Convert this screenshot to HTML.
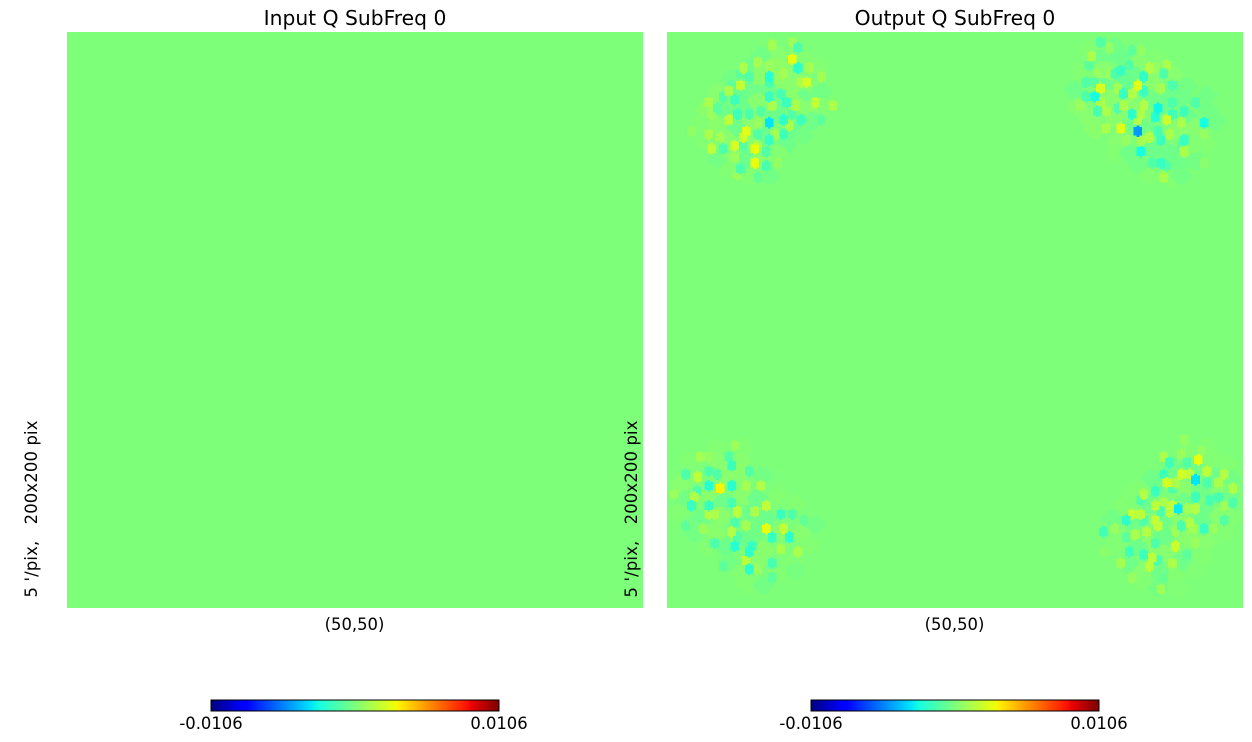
<!DOCTYPE html>
<html lang="en">
<head>
<meta charset="utf-8">
<title>Input and Output Q SubFreq 0</title>
<style>
  html, body { margin: 0; padding: 0; background: #fff; width: 1252px; height: 742px; overflow: hidden; }
  svg { display: block; font-family: "DejaVu Sans", "Liberation Sans", sans-serif; fill: #000; }
  text { white-space: pre; }
</style>
</head>
<body>
<svg id="figure" width="1252" height="742" viewBox="0 0 1252 742" xmlns="http://www.w3.org/2000/svg">
  <defs id="defs"></defs>
  <g id="panel-left"></g>
  <g id="panel-right"></g>
</svg>
<script>
// Colour scale limits and grid size
const vMin = -0.0106;
const vMax = 0.0106;
const gridSize = 200;
const tickLabels = ['-0.0106', '0.0106'];
const axisCaption = '(50,50)';
const sideCaption = "5 '/pix,   200x200 pix";
const inputTitle = 'Input Q SubFreq 0';
const outputTitle = 'Output Q SubFreq 0';
const inputLevel = 0;
const outputLevel = 0;

// Top-left lobe of the output map
const lobeACols = [43,45,45,36,43,35,35,48,53,40,26,31,35,49,25,21,23,28,25,22,19,14,15,17,35,36,39,41,44,51,57,24,28,32,21,40,42,46,43,35,37,40,27,26,31,31,14,18,15,23,26,30,19,35,34,31,30,25,34,23,24,31,38,53,8,46];
const lobeARows = [9,12,5,4,3,15,17,17,15,14,12,10,11,12,18,20,23,15,14,18,22,24,28,26,22,25,21,24,25,24,25,28,28,27,30,30,32,30,28,31,35,35,34,36,31,35,35,36,40,39,39,40,40,37,41,39,45,47,46,43,49,50,45,30,34,17];
const lobeAValues = [.0028,-.002,-.0012,.001,.0008,-.0022,-.0014,.0022,.001,.001,.0012,.001,.0008,.001,.0017,.0012,-.0016,-.001,-.0008,-.0008,-.001,.0012,.0008,-.0008,-.0018,.0012,-.0014,-.0016,.0012,.0018,.0012,-.0016,-.0012,-.001,.0017,-.002,.0012,-.0016,-.001,-.0032,.001,-.0016,.0026,.002,.0008,-.001,.0012,.001,.0017,.0022,-.001,.0028,-.0012,-.0018,-.001,.001,.0028,-.0012,-.0014,.0008,.0008,-.0006,.0006,-.0008,.0005,.0012];

// Top-right lobe of the output map
const lobeBCols = [150,153,147,161,164,146,157,155,160,167,173,169,165,172,150,148,149,153,145,145,148,163,161,165,158,156,171,175,143,150,152,149,158,156,165,170,169,161,164,175,175,179,183,173,178,163,186,157,152,163,164,167,174,170,171,179,164,179,171,168,173,172,186,178,186,159];
const lobeBRows = [3,5,8,6,6,11,13,14,11,12,11,12,15,14,19,22,14,14,17,22,17,18,21,20,21,19,19,18,25,24,27,27,25,26,25,26,29,28,28,24,28,27,24,30,31,30,31,33,33,34,37,36,35,34,37,37,41,41,45,45,46,50,35,39,45,37];
const lobeBValues = [-.001,.0006,.0012,-.0008,.0006,-.0009,-.0018,-.0012,-.001,.0014,.0012,.0007,-.002,-.0012,.0024,-.0026,.0007,.0008,-.001,-.0012,-.0009,.0026,.0014,-.0018,-.0018,.001,.001,-.0012,.0009,.0012,.0012,-.0014,.0012,-.0011,.0014,-.0028,-.0022,-.002,.0012,-.0012,-.0015,-.0016,-.0012,.002,.0012,.0014,-.0026,.0026,.0012,-.0048,.001,.0014,.0012,-.0014,-.0017,-.0018,-.0026,.0012,-.0018,-.001,-.001,.0012,.0006,-.0008,.0004,.0006];

// Bottom-left lobe of the output map
const lobeCCols = [23,21,11,14,22,28,14,17,6,10,18,14,22,10,32,27,2,9,8,14,22,34,24,14,16,30,39,43,23,27,6,34,40,22,36,42,24,23,16,29,28,27,36,39,45,28,19,31,36,12,47];
const lobeCRows = [143,147,147,147,150,152,152,153,153,154,158,157,157,159,157,157,160,161,164,164,163,164,166,167,167,166,167,167,170,171,171,172,172,173,175,175,175,178,177,178,180,183,184,179,180,186,185,186,189,172,169];
const lobeCValues = [.0008,-.001,.001,.0006,-.0016,-.001,-.0012,-.001,-.0012,.0017,.0032,-.0022,-.0022,-.0012,.0014,.001,.0008,.0014,-.0018,-.0017,-.0014,.0017,.0016,.0014,.0012,.0012,-.0017,-.0012,-.0012,.001,-.0008,.0028,.0018,.0014,-.0018,-.002,-.001,-.0022,-.0012,-.0018,-.002,.0016,-.0014,.0012,.0012,-.002,-.0008,.0008,-.0008,.0008,-.0006];

// Bottom-right lobe of the output map
const lobeDCols = [179,172,174,184,185,178,180,172,178,181,187,193,183,173,176,187,191,196,169,165,175,183,164,188,191,169,172,175,177,183,193,196,171,161,164,174,180,159,165,169,170,181,178,151,155,186,189,182,193,166,162,176,159,176,183,169,160,165,168,170,157,167,175,180,161,171,151,172];
const lobeDRows = [141,147,149,148,145,146,149,153,153,153,152,153,155,156,156,156,156,158,159,160,158,161,162,162,161,164,163,164,165,165,164,163,166,167,167,166,165,169,169,169,171,170,171,173,172,172,172,172,169,173,174,173,175,178,177,177,180,181,182,183,184,185,184,181,189,193,180,189];
const lobeDValues = [.0006,.0012,-.0015,.0028,.0006,.0008,-.001,-.0016,.0022,.0017,.0017,.0014,-.0032,.0022,.0012,-.0012,.0012,.0013,-.0018,.0014,-.001,-.0016,-.0012,-.0014,-.0013,.0016,.0012,.0018,-.003,.0014,.0009,-.0012,-.0012,.0018,.0016,.0015,.001,-.002,-.0012,.0018,.0018,.0014,-.0013,-.0015,.0007,-.0018,.0007,.001,-.001,.0014,.0012,.0009,-.0008,.002,.0008,-.0012,-.0015,-.0016,.0016,-.0012,.001,.0016,.0012,-.0008,.0007,.0009,.0004,-.0005];

// Low-amplitude broad pixels filling each lobe
const hazeACols = [38,44,32,28,33,38,43,48,52,22,27,32,38,43,50,17,24,30,35,41,47,53,13,19,26,31,38,43,48,54,11,17,24,29,37,44,50,13,20,28,34,41,47,17,22,27,32,38,21,28,35];
const hazeARows = [7,7,7,11,12,11,13,9,11,15,17,15,17,18,19,20,21,20,19,19,22,20,26,26,25,23,25,23,26,25,31,31,32,30,28,33,30,37,36,37,35,38,35,43,41,43,43,41,47,49,49];
const hazeAValues = [.0003,.0003,-.0002,-.0003,.0004,.0005,.0003,.0002,.0002,-.0002,-.0004,.0004,.0005,.0004,.0002,.0003,-.0005,-.0003,-.0004,.0004,-.0003,-.0002,.0004,-.0004,-.0004,.0003,-.0004,.0004,.0003,.0002,.0002,.0004,-.0004,.0003,-.0004,-.0005,-.0003,.0002,.0003,.0004,-.0005,-.0004,-.0002,-.0002,.0003,-.0004,.0003,.0002,.0002,.0002,-.0002];

const hazeBCols = [155,146,150,157,163,169,143,151,162,168,175,141,152,159,167,174,180,142,153,167,172,179,187,146,155,160,172,181,187,148,156,162,167,177,183,190,155,160,168,174,182,187,163,177,183,167,175,178];
const hazeBRows = [4,5,8,8,10,8,13,12,14,15,14,19,18,16,19,19,18,25,22,22,24,22,21,29,29,25,28,29,26,33,37,31,33,33,32,30,41,41,40,41,39,38,45,45,44,49,50,49];
const hazeBValues = [-.0002,.0002,-.0003,-.0004,.0003,.0002,.0002,.0003,-.0004,.0003,.0003,-.0003,-.0004,-.0005,.0004,-.0004,-.0002,.0003,.0004,-.0003,-.0004,-.0003,-.0002,.0003,.0004,.0004,-.0004,-.0003,-.0002,.0004,.0003,-.0004,-.0003,.0004,.0003,-.0002,.0002,-.0003,-.0004,-.0004,.0002,.0002,-.0002,-.0003,-.0002,.0002,.0002,-.0002];

const hazeCCols = [17,26,7,17,25,4,19,25,33,6,14,19,26,31,38,3,11,18,28,34,44,9,16,27,31,38,46,51,14,20,33,43,49,21,25,31,38,44,27,33];
const hazeCRows = [143,143,148,148,148,156,153,152,153,161,160,162,160,161,160,166,168,167,166,168,163,173,173,175,172,173,173,170,178,178,179,183,177,183,187,182,187,186,191,191];
const hazeCValues = [.0002,.0002,.0002,.0003,.0003,.0003,.0004,.0004,-.0002,-.0002,.0004,-.0004,.0004,-.0004,.0002,.0002,-.0003,.0004,-.0004,-.0004,.0002,-.0002,.0004,-.0004,-.0003,.0003,.0003,-.0002,.0002,-.0004,.0004,.0002,.0002,-.0002,.0002,.0003,.0002,-.0001,.0002,-.0002];

const hazeDCols = [180,187,175,183,190,194,168,176,190,195,162,170,179,185,192,195,158,167,179,187,193,154,162,172,178,186,191,195,157,167,172,181,187,193,154,163,172,178,186,160,165,171,176,183,164,170,177];
const hazeDRows = [144,143,150,151,148,149,154,152,153,154,158,156,158,158,159,160,163,163,162,165,162,168,171,168,168,168,167,168,175,177,174,175,176,173,178,178,180,183,181,184,186,187,188,186,190,192,193];
const hazeDValues = [.0002,.0002,-.0003,-.0002,.0002,.0002,-.0003,-.0004,-.0004,-.0002,.0002,-.0004,.0004,-.0003,.0003,-.0002,.0002,-.0004,-.0003,-.0004,-.0003,-.0002,-.0003,-.0004,.0004,-.0004,.0003,.0002,.0002,.0004,-.0004,.0004,.0003,.0002,.0002,-.0004,.0003,-.0003,.0002,-.0003,.0003,-.0003,.0002,.0001,.0002,-.0002,.0001];

const SVG_NS = 'http://www.w3.org/2000/svg';
const mapSize = 576;
const mapTop = 32;
const cellSize = mapSize / gridSize;

function make(parent, tag, attrs) {
  const el = document.createElementNS(SVG_NS, tag);
  for (const key in attrs) el.setAttribute(key, attrs[key]);
  parent.appendChild(el);
  return el;
}

function ramp(t, pts) {
  for (let i = 1; i < pts.length; i++) {
    if (t <= pts[i][0]) {
      const a = pts[i - 1], b = pts[i];
      return a[1] + (b[1] - a[1]) * (t - a[0]) / (b[0] - a[0]);
    }
  }
  return pts[pts.length - 1][1];
}
function jet(t) {
  const q = Math.min(255, Math.max(0, Math.floor(t * 256))) / 255;
  const r = ramp(q, [[0,0],[.35,0],[.66,1],[.89,1],[1,.5]]);
  const g = ramp(q, [[0,0],[.125,0],[.375,1],[.64,1],[.91,0],[1,0]]);
  const b = ramp(q, [[0,.5],[.11,1],[.34,1],[.65,0],[1,0]]);
  return 'rgb(' + Math.round(r * 255) + ',' + Math.round(g * 255) + ',' + Math.round(b * 255) + ')';
}
function colorScale(v) { return jet((v - vMin) / (vMax - vMin)); }

function samplePath(xAxis, yAxis, col, row) {
  const x0 = xAxis(col - 1), x1 = xAxis(col), x2 = xAxis(col + 1), x3 = xAxis(col + 2);
  const y0 = yAxis(row - 1.5), y1 = yAxis(row - 1), y2 = yAxis(row + 2), y3 = yAxis(row + 2.5);
  return 'M' + x1 + ' ' + y0 + 'H' + x2 + 'V' + y1 + 'H' + x3 + 'V' + y2 + 'H' + x2 + 'V' + y3 +
         'H' + x1 + 'V' + y2 + 'H' + x0 + 'V' + y1 + 'H' + x1 + 'Z';
}

function hazePath(xAxis, yAxis, col, row) {
  const a = xAxis(col - 3), b = xAxis(col - 2), c = xAxis(col - 1), d = xAxis(col + 2), e = xAxis(col + 3), f = xAxis(col + 4);
  const t0 = yAxis(row - 2), t1 = yAxis(row - 1), t2 = yAxis(row), t3 = yAxis(row + 2), t4 = yAxis(row + 3), t5 = yAxis(row + 4);
  return 'M' + c + ' ' + t0 + 'H' + d + 'V' + t1 + 'H' + e + 'V' + t2 + 'H' + f + 'V' + t3 + 'H' + e + 'V' + t4 + 'H' + d + 'V' + t5 +
         'H' + c + 'V' + t4 + 'H' + b + 'V' + t3 + 'H' + a + 'V' + t2 + 'H' + b + 'V' + t1 + 'H' + c + 'Z';
}

function drawGradient(id) {
  const grad = make(document.getElementById('defs'), 'linearGradient', { id: id, x1: 0, x2: 1, y1: 0, y2: 0 });
  for (let i = 0; i <= 64; i++) {
    make(grad, 'stop', { offset: i / 64, 'stop-color': jet(i / 64) });
  }
}

function drawPanel(group, left, title, level, lobes, hazes) {
  const xAxis = c => left + c * cellSize;
  const yAxis = r => mapTop + r * cellSize;
  const centre = left + mapSize / 2;

  const titleEl = make(group, 'text', { x: centre, y: 25, 'text-anchor': 'middle', 'font-size': 20.3 });
  titleEl.textContent = title;
  
  

  const clipId = 'map-clip-' + left;
  const clip = make(document.getElementById('defs'), 'clipPath', { id: clipId });
  make(clip, 'rect', { x: xAxis(0), y: yAxis(0), width: gridSize * cellSize, height: gridSize * cellSize });

  const bg = make(group, 'rect', { x: xAxis(0), y: yAxis(0), width: gridSize * cellSize, height: gridSize * cellSize, fill: colorScale(level) });
  
  

  if (hazes.length) {
    const hazeLayer = make(group, 'g', { 'shape-rendering': 'crispEdges', 'clip-path': 'url(#' + clipId + ')' });
    
    
    hazes.forEach(lobe => {
      lobe.cols.forEach((c, i) => {
        const cell = make(hazeLayer, 'path', { d: hazePath(xAxis, yAxis, c, lobe.rows[i]), fill: colorScale(lobe.values[i]) });
        
        
      });
    });
  }

  if (lobes.length) {
    const layer = make(group, 'g', { 'shape-rendering': 'crispEdges', 'clip-path': 'url(#' + clipId + ')' });
    
    
    const samples = [];
    lobes.forEach(lobe => {
      lobe.cols.forEach((c, i) => samples.push({ c: c, r: lobe.rows[i], v: lobe.values[i] }));
    });
    samples.sort((a, b) => Math.abs(a.v) - Math.abs(b.v));
    samples.forEach(s => {
      const cell = make(layer, 'path', { d: samplePath(xAxis, yAxis, s.c, s.r), fill: colorScale(s.v) });
      
      
    });
  }

  const xCap = make(group, 'text', { x: centre - 0.5, y: 630, 'text-anchor': 'middle', 'font-size': 16.4 });
  xCap.textContent = axisCaption;
  
  

  const yCap = make(group, 'text', { transform: 'translate(' + (left - 30) + ',597.5) rotate(-90)', 'font-size': 16.4, textLength: 177, lengthAdjust: 'spacing' });
  yCap.textContent = sideCaption;
  
  

  const barLeft = left + 144, barWidth = 288;
  const gradId = 'jet-' + left;
  drawGradient(gradId);
  const bar = make(group, 'rect', { x: barLeft, y: 700, width: barWidth, height: 11, fill: 'url(#' + gradId + ')', stroke: '#000', 'stroke-width': 1, 'shape-rendering': 'crispEdges' });
  
  

  const barScale = v => barLeft + (v - vMin) / (vMax - vMin) * barWidth;
  [vMin, vMax].forEach((v, i) => {
    const t = make(group, 'text', { x: barScale(v), y: 729, 'text-anchor': 'middle', 'font-size': 16.4 });
    t.textContent = tickLabels[i];
    
    
  });
}

drawPanel(document.getElementById('panel-left'), 67, inputTitle, inputLevel, [], []);
drawPanel(document.getElementById('panel-right'), 667, outputTitle, outputLevel, [
  { cols: lobeACols, rows: lobeARows, values: lobeAValues },
  { cols: lobeBCols, rows: lobeBRows, values: lobeBValues },
  { cols: lobeCCols, rows: lobeCRows, values: lobeCValues },
  { cols: lobeDCols, rows: lobeDRows, values: lobeDValues }
], [
  { cols: hazeACols, rows: hazeARows, values: hazeAValues },
  { cols: hazeBCols, rows: hazeBRows, values: hazeBValues },
  { cols: hazeCCols, rows: hazeCRows, values: hazeCValues },
  { cols: hazeDCols, rows: hazeDRows, values: hazeDValues }
]);
</script>
</body>
</html>
